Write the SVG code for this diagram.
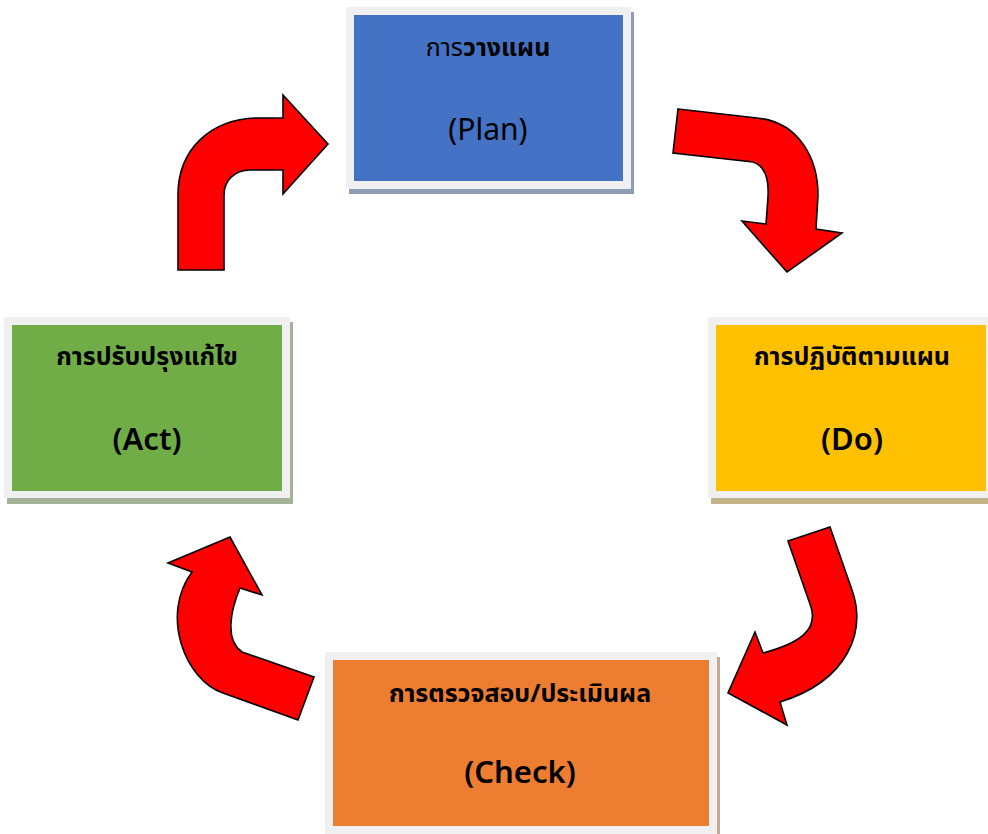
<svg xmlns="http://www.w3.org/2000/svg" width="988" height="834" viewBox="0 0 988 834">
<style>
.frame{fill:#f0f0f0}
.th{font-family:"Noto Sans Thai","Noto Sans","Liberation Sans",sans-serif;font-size:25px;font-weight:bold;fill:#000;text-anchor:middle}
.en{font-family:"Noto Sans","Liberation Sans",sans-serif;font-size:30px;fill:#000;text-anchor:middle}
.enb{font-family:"Noto Sans","Liberation Sans",sans-serif;font-size:31px;font-weight:600;fill:#000;text-anchor:middle}
.arrow{fill:#ff0000;stroke:#000;stroke-width:1.6;stroke-linejoin:miter}
</style>
<rect width="988" height="834" fill="#fff"/>
<g id="connectors">
<path class="arrow" d="M678,109 L757,118 C800,122 818,160 818,195 L816,229 L842,233 L787,272 L742,221 L766,224 L768,197 C769,180 765,166 753,162 L673,153 Z"/>
<path class="arrow" d="M788,541 L830,527 L852,590 C866,630 850,680 780,702 L787,725 L728,693 L755,632 L763,653 C800,643 818,630 811,607 Z"/>
<path class="arrow" d="M314,677 L298,720 L223,693 C185,680 160,615 192,572 L168,563 L230,537 L262,595 L240,588 C230,612 225,640 242,652 Z"/>
<path class="arrow" d="M178,270 L178,195 C178,150 210,118 260,118 L283,118 L283,95 L328,144 L283,194 L283,170 L250,170 C235,170 224,180 224,195 L224,270 Z"/>
</g>
<g id="plan">
<rect x="349" y="12" width="285" height="182" fill="#8e9cb8"/>
<rect class="frame" x="346" y="7" width="285" height="182"/>
<rect x="354" y="15" width="269" height="166" fill="#4472c4"/>
<text class="th" x="488" y="56"><tspan font-weight="normal">การ</tspan>วางแผน</text>
<text class="en" x="488" y="140">(Plan)</text>
</g>
<g id="do">
<rect x="711" y="322" width="285" height="182" fill="#c2b488"/>
<rect class="frame" x="708" y="317" width="286" height="181"/>
<rect x="716" y="325" width="270" height="166" fill="#ffc000"/>
<text class="th" x="852" y="365">การปฏิบัติตามแผน</text>
<text class="enb" x="852" y="450">(Do)</text>
</g>
<g id="check">
<rect x="328" y="657" width="392" height="182" fill="#c9a690"/>
<rect class="frame" x="325" y="652" width="392" height="182"/>
<rect x="333" y="660" width="376" height="166" fill="#ed7d31"/>
<text class="th" x="520" y="702">การตรวจสอบ/ประเมินผล</text>
<text class="enb" x="520" y="783">(Check)</text>
</g>
<g id="act">
<rect x="7" y="322" width="286" height="182" fill="#a4b297"/>
<rect class="frame" x="4" y="317" width="286" height="181"/>
<rect x="12" y="325" width="270" height="166" fill="#70ad47"/>
<text class="th" x="147" y="365">การปรับปรุงแก้ไข</text>
<text class="enb" x="147" y="450">(Act)</text>
</g>
</svg>
